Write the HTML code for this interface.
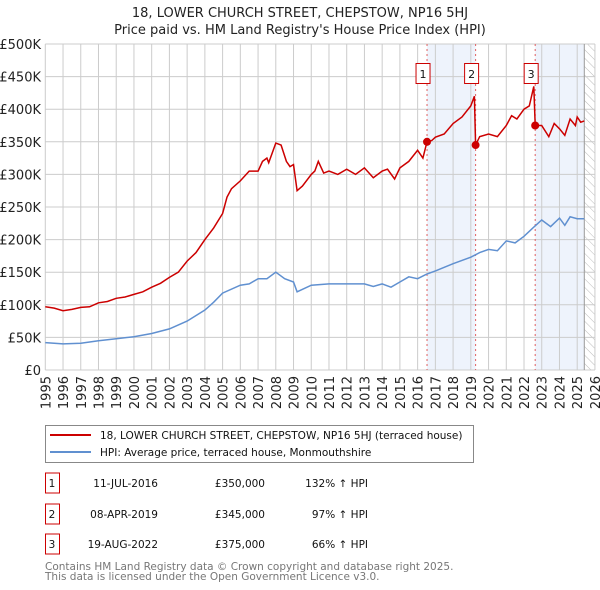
<!DOCTYPE html>
<html><head><meta charset="utf-8"><style>
body{margin:0;background:#fff;width:600px;height:590px;overflow:hidden;font-family:"DejaVu Sans","Liberation Sans",sans-serif;}
svg{position:absolute;left:0;top:0}
</style></head><body>
<svg id="chart" width="600" height="590" xmlns="http://www.w3.org/2000/svg" font-family="DejaVu Sans, Liberation Sans, sans-serif">
<defs><pattern id="hatch" width="6" height="6" patternUnits="userSpaceOnUse" patternTransform="rotate(-45)"><line x1="0" y1="0" x2="0" y2="6" stroke="#bbb" stroke-width="1"/></pattern></defs>
<text x="300" y="17" text-anchor="middle" font-size="13" fill="#222">18, LOWER CHURCH STREET, CHEPSTOW, NP16 5HJ</text>
<text x="300" y="34" text-anchor="middle" font-size="13" fill="#222">Price paid vs. HM Land Registry's House Price Index (HPI)</text>
<g id="plot"></g>
<g>
<rect x="45.5" y="425.5" width="428" height="37" fill="#fff" stroke="#888"/>
<line x1="50" y1="435" x2="91" y2="435" stroke="#cc0000" stroke-width="2"/>
<text x="100" y="439" font-size="10.5" fill="#111">18, LOWER CHURCH STREET, CHEPSTOW, NP16 5HJ (terraced house)</text>
<line x1="50" y1="452" x2="91" y2="452" stroke="#6090d0" stroke-width="2"/>
<text x="100" y="456" font-size="10.5" fill="#111">HPI: Average price, terraced house, Monmouthshire</text>
</g>
<g id="table" font-size="10.5" fill="#111"></g>
<text x="45" y="570" font-size="10.5" fill="#777">Contains HM Land Registry data © Crown copyright and database right 2025.</text>
<text x="45" y="580" font-size="10.5" fill="#777">This data is licensed under the Open Government Licence v3.0.</text>
</svg>
<script>
const yTicks=[0,50,100,150,200,250,300,350,400,450,500];
const yTickLabels=["£0","£50K","£100K","£150K","£200K","£250K","£300K","£350K","£400K","£450K","£500K"];
const xYears=[1995,1996,1997,1998,1999,2000,2001,2002,2003,2004,2005,2006,2007,2008,2009,2010,2011,2012,2013,2014,2015,2016,2017,2018,2019,2020,2021,2022,2023,2024,2025,2026];
const redT=[1995,1995.5,1996,1996.5,1997,1997.5,1998,1998.5,1999,1999.5,2000,2000.5,2001,2001.5,2002,2002.5,2003,2003.5,2004,2004.5,2005,2005.25,2005.5,2006,2006.5,2007,2007.25,2007.5,2007.6,2008,2008.3,2008.6,2008.8,2009,2009.2,2009.5,2010,2010.2,2010.4,2010.7,2011,2011.5,2012,2012.5,2013,2013.5,2014,2014.3,2014.7,2015,2015.5,2016,2016.3,2016.53,2016.8,2017,2017.5,2018,2018.5,2019,2019.2,2019.27,2019.5,2020,2020.5,2021,2021.3,2021.6,2022,2022.3,2022.55,2022.63,2023,2023.4,2023.7,2024,2024.3,2024.6,2024.9,2025,2025.2,2025.4];
const redV=[97,95,91,93,96,97,103,105,110,112,116,120,127,133,142,150,167,180,200,218,240,265,278,290,305,305,320,325,318,348,345,320,312,315,275,282,300,305,320,302,305,300,308,300,310,295,305,308,293,310,320,337,325,350,352,357,362,378,388,405,420,345,358,362,358,375,390,385,400,405,435,375,375,358,378,370,360,385,375,388,380,382];
const blueT=[1995,1996,1997,1998,1999,2000,2001,2002,2003,2004,2004.5,2005,2006,2006.5,2007,2007.5,2008,2008.5,2009,2009.2,2010,2011,2012,2013,2013.5,2014,2014.5,2015,2015.5,2016,2016.5,2017,2018,2019,2019.5,2020,2020.5,2021,2021.5,2022,2022.5,2023,2023.5,2024,2024.3,2024.6,2025,2025.4];
const blueV=[42,40,41,45,48,51,56,63,75,92,104,118,130,132,140,140,150,140,135,120,130,132,132,132,128,132,127,135,143,140,147,152,163,173,180,185,183,198,195,205,218,230,220,233,222,235,232,232];
const saleT=[2016.53,2019.27,2022.63];
const saleV=[350,345,375];
const saleLabels=["1","2","3"];
const saleDates=["11-JUL-2016","08-APR-2019","19-AUG-2022"];
const salePrices=["£350,000","£345,000","£375,000"];
const salePct=["132% ↑ HPI","97% ↑ HPI","66% ↑ HPI"];
const shadeStart=[2016.53,2022.63], shadeEnd=[2019.27,2025.4];
const dataEnd=2025.4;

const X0=45.3,XPY=17.73,Y0=370,YPK=0.652;
const xs=t=>X0+(t-1995)*XPY, ys=v=>Y0-v*YPK;
const NS="http://www.w3.org/2000/svg";
const plot=document.getElementById('plot');
function mk(tag,attrs,parent){const e=document.createElementNS(NS,tag);for(const k in attrs)e.setAttribute(k,attrs[k]);(parent||plot).appendChild(e);return e;}
for(let i=0;i<shadeStart.length;i++){
 const r=mk('rect',{x:xs(shadeStart[i]),y:ys(500),width:xs(shadeEnd[i])-xs(shadeStart[i]),height:ys(0)-ys(500),fill:'#eef3fc'});
 
 
}
const h=mk('rect',{x:xs(dataEnd),y:ys(500),width:xs(2026)-xs(dataEnd),height:ys(0)-ys(500),fill:'url(#hatch)'});


yTicks.forEach((v,i)=>{
 mk('line',{x1:xs(1995),x2:xs(2026),y1:ys(v),y2:ys(v),stroke:'#ccc','stroke-width':1});
 const t=mk('text',{x:41,y:ys(v)+5,'text-anchor':'end','font-size':13,fill:'#222'});t.textContent=yTickLabels[i];
 
 
});
xYears.forEach(y=>{
 mk('line',{x1:xs(y),x2:xs(y),y1:ys(500),y2:ys(0),stroke:'#ccc','stroke-width':1});
 const t=mk('text',{x:0,y:0,'text-anchor':'end','font-size':13,fill:'#222',transform:`translate(${xs(y)+5},${ys(0)+6}) rotate(-90)`});t.textContent=y;
 
 
});
mk('line',{x1:xs(dataEnd),x2:xs(dataEnd),y1:ys(500),y2:ys(0),stroke:'#999','stroke-width':1});
saleT.forEach(t=>{mk('line',{x1:xs(t),x2:xs(t),y1:ys(500),y2:ys(0),stroke:'#e06060','stroke-width':1,'stroke-dasharray':'2,3'});});
const pts=(T,V)=>T.map((t,i)=>xs(t).toFixed(1)+','+ys(V[i]).toFixed(1)).join(' ');
const b=mk('polyline',{points:pts(blueT,blueV),fill:'none',stroke:'#6090d0','stroke-width':1.5});


const r=mk('polyline',{points:pts(redT,redV),fill:'none',stroke:'#cc0000','stroke-width':1.5});


saleT.forEach((t,i)=>{
 const c=mk('circle',{cx:xs(t),cy:ys(saleV[i]),r:4,fill:'#cc0000'});
 
 
 const bx=xs(t)-11;
 mk('rect',{x:bx,y:63.5,width:14,height:20,fill:'#fff',stroke:'#cc0000'});
 const l=mk('text',{x:bx+7,y:78,'text-anchor':'middle','font-size':11,fill:'#111'});l.textContent=saleLabels[i];
 
 
});
const tb=document.getElementById('table');
const rowY=[483,514,544];
saleDates.forEach((d,i)=>{
 const y=rowY[i];
 mk('rect',{x:45.5,y:y-10,width:14,height:20,fill:'#fff',stroke:'#cc0000'},tb);
 const a=mk('text',{x:52,y:y+4,'text-anchor':'middle'},tb);a.textContent=saleLabels[i];
 
 
 const dd=mk('text',{x:158,y:y+4,'text-anchor':'end'},tb);dd.textContent=d;
 
 
 const p=mk('text',{x:265,y:y+4,'text-anchor':'end'},tb);p.textContent=salePrices[i];
 
 
 const q=mk('text',{x:368,y:y+4,'text-anchor':'end'},tb);q.textContent=salePct[i];
 
 
});
</script>
</body></html>
